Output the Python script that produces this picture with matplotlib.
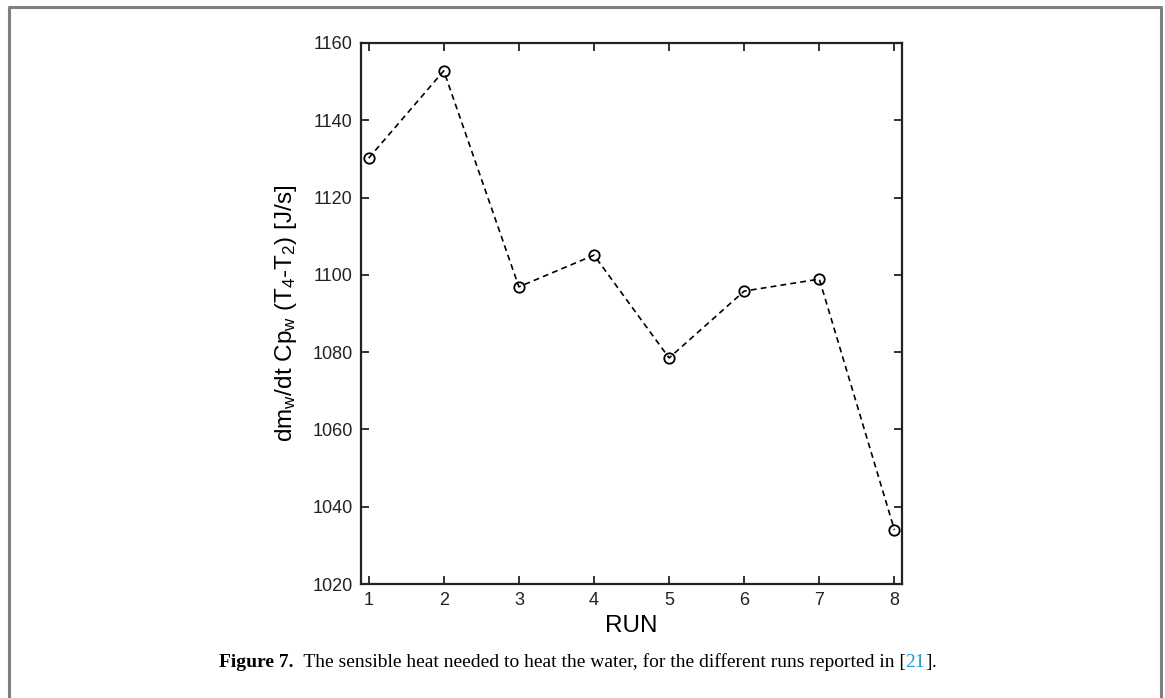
import matplotlib
matplotlib.use("Agg")
import matplotlib.pyplot as plt
from matplotlib.text import Annotation

# data
runs = [1, 2, 3, 4, 5, 6, 7, 8]
heat = [1130.2, 1152.8, 1096.9, 1105.1, 1078.5, 1095.8, 1098.9, 1034.0]
yticks = [1020, 1040, 1060, 1080, 1100, 1120, 1140, 1160]

plt.rcParams['font.family'] = ['Liberation Sans', 'DejaVu Sans']
plt.rcParams['mathtext.default'] = 'regular'

fig = plt.figure(figsize=(11.65, 6.98), dpi=100)
ax = fig.add_axes([0.31, 0.1633, 0.4642, 0.7751])

ax.plot(runs, heat, color='black', lw=1.2, linestyle=(0, (3.5, 2.5)),
        marker='o', markersize=7.5, markerfacecolor='none',
        markeredgecolor='black', markeredgewidth=1.3)

ax.set_xlim(0.9, 8.1)
ax.set_ylim(1020, 1160)
ax.set_xticks(runs)
ax.set_yticks(yticks)
ax.tick_params(direction='in', top=True, right=True, length=6, width=1.3,
               labelsize=13, pad=6, colors='#222222')
for s in ax.spines.values():
    s.set_linewidth(1.6)
    s.set_color('#222222')

ax.set_xlabel('RUN', fontsize=17.5, labelpad=4)
ax.set_ylabel(r'dm$_w$/dt Cp$_w$ (T$_4$-T$_2$) [J/s]', fontsize=17.5, labelpad=10)

# frame around the figure (open at the bottom)
fig.add_artist(plt.Line2D([8.5/1165, 8.5/1165, 1161/1165, 1161/1165],
                          [0, 1 - 7/698, 1 - 7/698, 0],
                          transform=fig.transFigure, color='#808080', lw=2.2))

# caption built from pieces
serif = ['Liberation Serif', 'DejaVu Serif']
t = fig.text(219/1165, 1 - 667/698, 'Figure 7.', fontsize=14, fontweight='bold',
             family=serif, va='baseline')
parts = [('  The sensible heat needed to heat the water, for the different runs reported in [', 'black'),
         ('21', '#1a9ad6'), (']', 'black'), ('.', 'black')]
prev = t
for txt, col in parts:
    prev = fig.add_artist(Annotation(txt, xy=(1, 0), xycoords=prev,
                                     va='bottom', ha='left', fontsize=14,
                                     family=serif, color=col))

fig.savefig('out.png', dpi=100)
